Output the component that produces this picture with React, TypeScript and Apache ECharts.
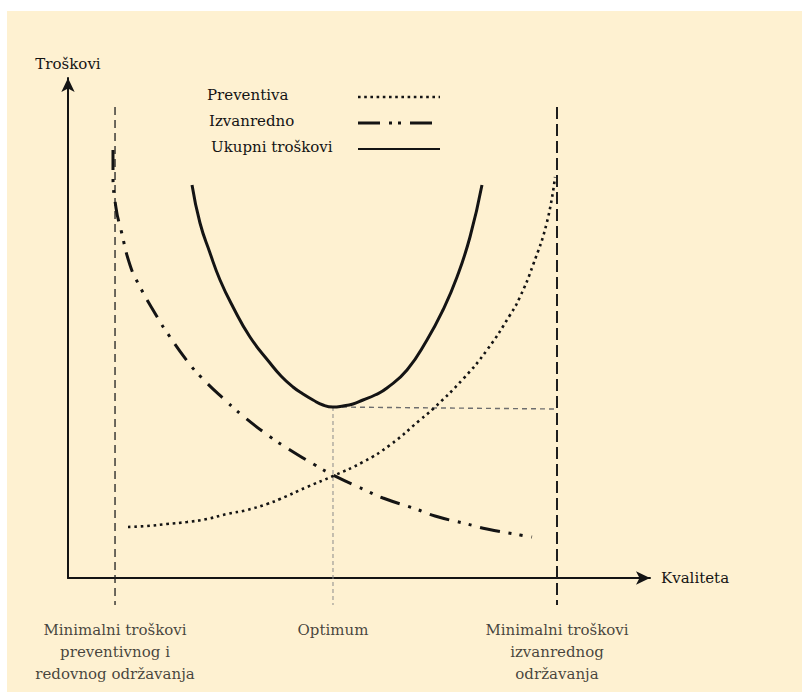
import React, { useEffect, useRef } from "react";
import * as echarts from "echarts";

const seriesNames = ["Preventiva", "Izvanredno", "Ukupni troškovi"];
const xAxisName = "Kvaliteta";
const yAxisName = "Troškovi";

// [quality, cost]
const preventiva: [number, number][] = [
  [10.31, 10.2], [13.57, 10.4], [17.01, 10.8], [20.45, 11.2], [23.88, 11.8],
  [27.32, 12.8], [30.76, 13.6], [34.19, 14.8], [36.43, 15.8], [41.07, 18.2],
  [45.53, 20.4], [50.69, 23.2], [55.33, 26.6], [60.48, 31.6], [62.71, 33.8],
  [67.87, 39.8], [71.99, 45.6], [75.95, 52.6], [77.66, 56.2], [79.9, 62.6],
  [82.3, 71.2], [83.68, 80.2],
];
const izvanredno: [number, number][] = [
  [7.73, 85.6], [7.73, 81.0], [8.25, 74.0], [9.11, 69.6], [10.65, 62.6],
  [12.2, 58.6], [15.12, 52.6], [17.18, 48.8], [20.62, 43.2], [23.02, 40.0],
  [27.15, 35.4], [30.07, 32.4], [34.54, 28.4], [37.63, 26.0], [42.44, 22.6],
  [45.53, 20.6], [51.03, 17.6], [54.12, 16.0], [59.79, 13.8], [63.06, 12.4],
  [68.56, 10.8], [71.99, 9.8], [77.66, 8.6], [79.73, 8.2],
];
const ukupni: [number, number][] = [
  [21.31, 78.6], [22.68, 71.0], [24.4, 65.0], [26.12, 59.6], [28.35, 54.2],
  [31.27, 48.2], [34.71, 43.0], [36.6, 40.4], [38.66, 38.2], [40.38, 36.8],
  [42.1, 35.6], [43.81, 34.6], [45.53, 34.2], [47.25, 34.4], [48.97, 34.8],
  [50.69, 35.6], [52.75, 36.6], [54.81, 38.0], [58.25, 41.6], [61.68, 47.6],
  [64.43, 53.6], [66.84, 60.2], [69.07, 68.2], [71.13, 78.6],
];

const markerX = [8.08, 45.53, 84.02];
const markerLabels = [
  "Minimalni troškovi\npreventivnog i\nredovnog održavanja",
  "Optimum",
  "Minimalni troškovi\nizvanrednog\nodržavanja",
];
const guideTop = 94.2;
const guideBottom = -5.4;
const optimumCost = 34.2;
const optimumCostRight = 33.8;

const FONT = "DejaVu Serif";
const FS = 15;
const INK = "#141414";

export default function App() {
  const ref = useRef<HTMLDivElement>(null);
  useEffect(() => {
    if (!ref.current) return;
    const chart = echarts.init(ref.current, undefined, { renderer: "svg" });

    const guide = (data: [number, number][], color: string, width: number, dash: number[]) => ({
      type: "line",
      data,
      symbol: "none",
      clip: false,
      silent: true,
      z: 1,
      lineStyle: { color, width, type: dash },
    });

    const legendY = [96, 122, 148];
    const legendDash: (number[] | null)[] = [[2.6, 3.6], [22, 9, 3, 6, 3, 9], null];
    const legendWidth = [2.4, 3, 2];

    const graphic: any[] = [
      { type: "rect", z: -10, silent: true, shape: { x: 7, y: 11, width: 795, height: 681 }, style: { fill: "#FEF1D1" } },
    ];
    seriesNames.forEach((n, i) => {
      graphic.push({
        type: "text", left: 207 + i * 2, top: legendY[i] - 9,
        style: { text: n, font: FS + "px " + FONT, fill: INK },
      });
      graphic.push({
        type: "line", silent: true,
        shape: { x1: 358, y1: legendY[i] + 1, x2: 440, y2: legendY[i] + 1 },
        style: { stroke: INK, lineWidth: legendWidth[i], lineDash: legendDash[i] || undefined },
      });
    });

    const curve = (i: number, data: [number, number][], width: number, dash: number[] | "solid") => ({
      name: seriesNames[i], type: "line", data, smooth: 0.5,
      symbol: "none", z: 3,
      lineStyle: { color: INK, width, type: dash },
    });

    chart.setOption({
      animation: false,
      backgroundColor: "transparent",
      textStyle: { fontFamily: FONT },
      grid: { left: 68, right: 159, top: 78, bottom: 122 },
      xAxis: {
        type: "value", min: 0, max: 100,
        name: xAxisName, nameLocation: "end", nameGap: 11,
        nameTextStyle: { fontFamily: FONT, fontSize: FS, color: INK },
        axisLine: { show: true, onZero: true, symbol: ["none", "arrow"], symbolSize: [10, 14], lineStyle: { color: INK, width: 2 } },
        axisTick: { show: false }, axisLabel: { show: false }, splitLine: { show: false },
      },
      yAxis: {
        type: "value", min: 0, max: 100,
        name: yAxisName, nameLocation: "end", nameGap: 7,
        nameTextStyle: { fontFamily: FONT, fontSize: FS, color: INK },
        axisLine: { show: true, onZero: true, symbol: ["none", "arrow"], symbolSize: [10, 14], lineStyle: { color: INK, width: 2 } },
        axisTick: { show: false }, axisLabel: { show: false }, splitLine: { show: false },
      },
      graphic,
      series: [
        guide([[markerX[0], guideTop], [markerX[0], guideBottom]], "#1e1e1e", 1.3, [8, 5]),
        guide([[markerX[2], guideTop], [markerX[2], guideBottom]], "#1e1e1e", 2, [12, 5]),
        guide([[markerX[1], optimumCost], [markerX[1], guideBottom]], "#8a8a8a", 1, [4, 3]),
        guide([[markerX[1], optimumCost], [markerX[2], optimumCostRight]], "#6e6e6e", 1.4, [5, 4]),
        {
          type: "scatter",
          data: markerX.map((x, i) => ({ value: [x, guideBottom], name: markerLabels[i] })),
          symbolSize: 0,
          clip: false,
          silent: true,
          label: {
            show: true, position: "bottom", distance: 14,
            formatter: (p: any) => p.name,
            fontFamily: FONT, fontSize: FS, color: INK, lineHeight: 22, align: "center",
          },
        },
        curve(0, preventiva, 2.6, [2.6, 3.8]),
        curve(1, izvanredno, 3, [20, 9, 3, 8, 3, 9]),
        curve(2, ukupni, 3, "solid"),
      ],
    });
    return () => chart.dispose();
  }, []);
  return (
    <div
      ref={ref}
      style={{ position: "fixed", left: 0, top: 0, width: 809, height: 700, background: "#ffffff" }}
    />
  );
}
